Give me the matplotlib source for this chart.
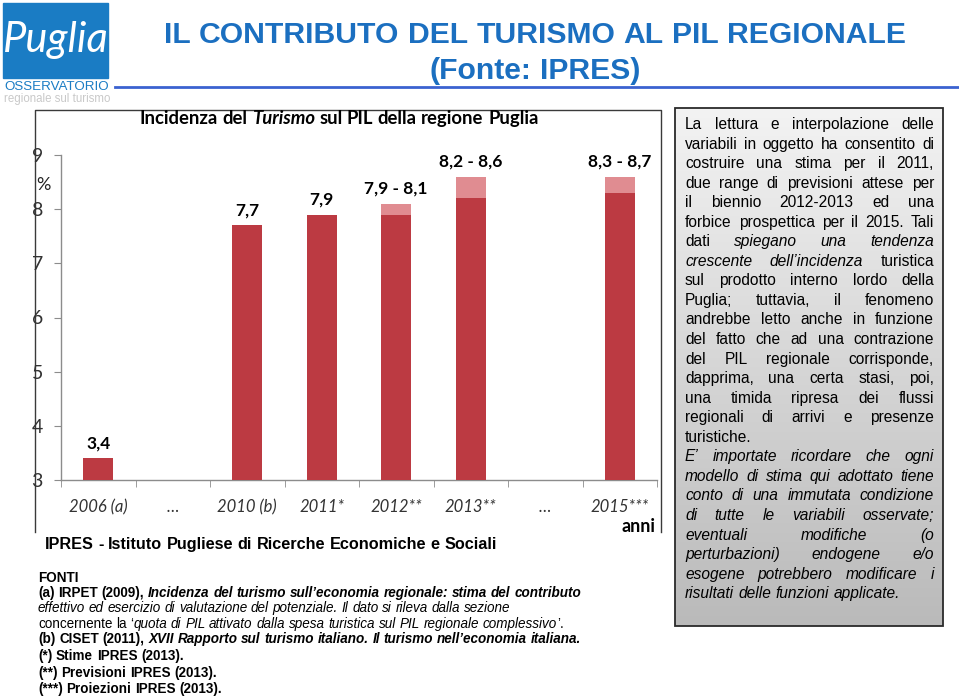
import matplotlib
matplotlib.use('Agg')
import matplotlib.pyplot as plt
import numpy as np
from matplotlib.patches import Rectangle
from matplotlib.colors import LinearSegmentedColormap

# ---------------- data ----------------
categories = ['2006 (a)', '…', '2010 (b)', '2011*', '2012**', '2013**', '…', '2015***']
low_values = [3.4, np.nan, 7.7, 7.9, 7.9, 8.2, np.nan, 8.3]
high_values = [3.4, np.nan, 7.7, 7.9, 8.1, 8.6, np.nan, 8.6]
value_labels = ['3,4', '', '7,7', '7,9', '7,9 - 8,1', '8,2 - 8,6', '', '8,3 - 8,7']
y_ticks = [3, 4, 5, 6, 7, 8, 9]

title_lines = ['IL CONTRIBUTO DEL TURISMO AL PIL REGIONALE', '(Fonte: IPRES)']
chart_title = 'Incidenza del *Turismo* sul PIL della regione Puglia'

box_lines = [
    'La lettura e interpolazione delle',
    'variabili in oggetto ha consentito di',
    'costruire una stima per il 2011,',
    'due range di previsioni attese per',
    'il biennio 2012-2013 ed una',
    'forbice prospettica per il 2015. Tali',
    'dati *spiegano una tendenza*',
    '*crescente dell\u2019incidenza* turistica',
    'sul prodotto interno lordo della',
    'Puglia; tuttavia, il fenomeno',
    'andrebbe letto anche in funzione',
    'del fatto che ad una contrazione',
    'del PIL regionale corrisponde,',
    'dapprima, una certa stasi, poi,',
    'una timida ripresa dei flussi',
    'regionali di arrivi e presenze',
    'turistiche.',
    '*E\u2019 importate ricordare che ogni*',
    '*modello di stima qui adottato tiene*',
    '*conto di una immutata condizione*',
    '*di tutte le variabili osservate;*',
    '*eventuali modifiche (o*',
    '*perturbazioni) endogene e/o*',
    '*esogene potrebbero modificare i*',
    '*risultati delle funzioni applicate.*',
]
box_justify = [True] * 16 + [False] + [True] * 7 + [False]

ipres_line = 'IPRES - Istituto Pugliese di Ricerche Economiche e Sociali'
fonti_lines = [
    ('FONTI', True),
    ('(a) IRPET (2009), *Incidenza del turismo sull\u2019economia regionale: stima del contributo*', True),
    ('*effettivo ed esercizio di valutazione del potenziale. Il dato si rileva dalla sezione*', False),
    ('concernente la \u2018*quota di PIL attivato dalla spesa turistica sul PIL regionale complessivo*\u2019.', False),
    ('(b) CISET (2011), *XVII Rapporto sul turismo italiano. Il turismo nell\u2019economia italiana.*', True),
    ('(*) Stime IPRES (2013).', True),
    ('(**) Previsioni IPRES (2013).', True),
    ('(***) Proiezioni IPRES (2013).', True),
]

# ---------------- figure ----------------
W, H = 959, 696
fig = plt.figure(figsize=(W / 100, H / 100), dpi=100)
fig.patch.set_facecolor('white')
bg = fig.add_axes([0, 0, 1, 1])
bg.axis('off')

renderer = fig.canvas.get_renderer()

NARROW = ['Liberation Sans Narrow', 'Liberation Sans', 'DejaVu Sans']
SANS = ['Liberation Sans', 'DejaVu Sans']
CHART = ['Lato', 'DejaVu Sans']


def text_line(y, line, x0, x1=None, align='left', size=11, family=SANS,
              color='black', bold=False, zorder=5):
    tokens = []
    italic = False
    for w in line.split(' '):
        if w in ('(*)', '(**)', '(***)'):
            tokens.append([(w, italic)])
            continue
        pieces = []
        cur = ''
        for ch in w:
            if ch == '*':
                if cur:
                    pieces.append((cur, italic))
                cur = ''
                italic = not italic
            else:
                cur += ch
        if cur:
            pieces.append((cur, italic))
        if pieces:
            tokens.append(pieces)
    weight = 'bold' if bold else 'normal'
    objs = []
    widths = []
    for pieces in tokens:
        wobjs = []
        ww = 0
        for s, it in pieces:
            t = bg.text(0, y, s, fontsize=size, family=family,
                        style='italic' if it else 'normal', weight=weight,
                        ha='left', va='baseline', color=color, zorder=zorder)
            w_ = t.get_window_extent(renderer=renderer).width
            wobjs.append((t, w_))
            ww += w_
        objs.append(wobjs)
        widths.append(ww)
    sp = bg.text(0, 0, 'a a', fontsize=size, family=family, weight=weight)
    sp2 = bg.text(0, 0, 'aa', fontsize=size, family=family, weight=weight)
    space = sp.get_window_extent(renderer=renderer).width - sp2.get_window_extent(renderer=renderer).width
    sp.remove(); sp2.remove()
    total = sum(widths) + space * (len(widths) - 1)
    gap = space
    if align == 'justify' and len(widths) > 1:
        gap = (x1 - x0 - sum(widths)) / (len(widths) - 1)
        start = x0
    elif align == 'center':
        start = x0 - total / 2
    else:
        start = x0
    x = start
    for wobjs, ww in zip(objs, widths):
        for t, w_ in wobjs:
            t.set_x(x)
            x += w_
        x += gap


bg.set_xlim(0, W)
bg.set_ylim(H, 0)

# ---- logo ----
bg.add_patch(Rectangle((3, 3), 105, 75, color='#1a7cc4', zorder=2))
bg.text(56, 40, 'Puglia', fontsize=30, family=CHART, style='italic',
        color='white', ha='center', va='center', zorder=3)
bg.text(4, 87, 'OSSERVATORIO', fontsize=9.6, family=SANS, color='#1a7cc4',
        ha='left', va='center', zorder=3)
bg.text(4, 99, 'regionale sul turismo', fontsize=8.3, family=SANS, color='#c9c9c9',
        ha='left', va='center', zorder=3)
bg.plot([115, 958], [87, 87], color='#3b62d0', lw=2, zorder=2)

# ---- slide title ----
text_line(43, title_lines[0], 535, align='center', size=21.7, family=NARROW,
          color='#1b6fc0', bold=True)
text_line(79, title_lines[1], 535, align='center', size=21.7, family=NARROW,
          color='#1b6fc0', bold=True)

# ---- chart frame ----
bg.plot([35, 35, 661, 661], [532, 110, 110, 532], color='#3a3a3a', lw=1.0, zorder=2)
text_line(124, chart_title, 339, align='center', size=13.3, family=CHART,
          color='black', bold=True)

# ---- chart axes ----
l, r, t, b = 61, 657, 155, 480
ax = fig.add_axes([l / W, 1 - b / H, (r - l) / W, (b - t) / H])
ax.set_facecolor('none')
x = np.arange(len(categories))
low = np.array(low_values)
high = np.array(high_values)
ax.bar(x, low, width=0.4, color='#bc3a42', zorder=3)
ax.bar(x, high - low, bottom=low, width=0.4, color='#e08c91', zorder=3)
ax.set_ylim(3, 9)
ax.set_xlim(-0.5, len(categories) - 0.5)
for xi, hv, lab in zip(x, high, value_labels):
    if lab:
        ax.annotate(lab, (xi, hv), xytext=(0, 5), textcoords='offset points',
                    ha='center', va='bottom', fontsize=12.5, family=CHART,
                    weight='bold', color='black')
ax.set_yticks(y_ticks)
ax.set_yticklabels([str(v) for v in y_ticks], fontsize=14, family=CHART,
                   color='#333333')
ax.set_xticks(x)
ax.set_xticklabels(categories, fontsize=12, family=CHART, style='italic',
                   color='#333333')
ax.set_xticks(np.arange(len(categories) + 1) - 0.5, minor=True)
ax.tick_params(axis='x', which='major', length=0, pad=14)
ax.tick_params(axis='x', which='minor', length=5, color='#8c8c8c', direction='out')
ax.tick_params(axis='y', which='major', length=5, color='#8c8c8c', direction='out', pad=8)
for s in ('top', 'right'):
    ax.spines[s].set_visible(False)
for s in ('left', 'bottom'):
    ax.spines[s].set_color('#8c8c8c')
    ax.spines[s].set_linewidth(1.0)
bg.text(43, 185, '%', fontsize=13, family=CHART, color='#222222',
        ha='center', va='center', zorder=5)
bg.text(656, 527, 'anni', fontsize=13, family=CHART, weight='bold',
        color='black', ha='right', va='center', zorder=5)

# ---- right text box ----
bx0, by0, bx1, by1 = 675, 108, 943, 626
cmap = LinearSegmentedColormap.from_list('g', ['#f3f3f3', '#d6d6d6', '#bababa'])
bg.imshow(np.linspace(0, 1, 256).reshape(-1, 1), extent=[bx0, bx1, by1, by0],
          cmap=cmap, aspect='auto', zorder=1.5, origin='upper')
bg.add_patch(Rectangle((bx0, by0), bx1 - bx0, by1 - by0, fill=False,
                       ec='#2a2a2a', lw=1.3, zorder=2))
y0 = 129
dy = 19.55
for i, (line, just) in enumerate(zip(box_lines, box_justify)):
    text_line(y0 + i * dy, line, 685, 934, align='justify' if just else 'left',
              size=11.2, family=SANS, color='black')

# ---- bottom texts ----
text_line(549, ipres_line, 45, size=11.7, family=NARROW, bold=True)
fy = [582, 597, 612, 628, 643, 660, 677, 693]
for (line, bold), yy in zip(fonti_lines, fy):
    text_line(yy, line, 38, size=9.75, family=NARROW, bold=bold)

bg.set_xlim(0, W)
bg.set_ylim(H, 0)
fig.savefig('out.png', dpi=100)
